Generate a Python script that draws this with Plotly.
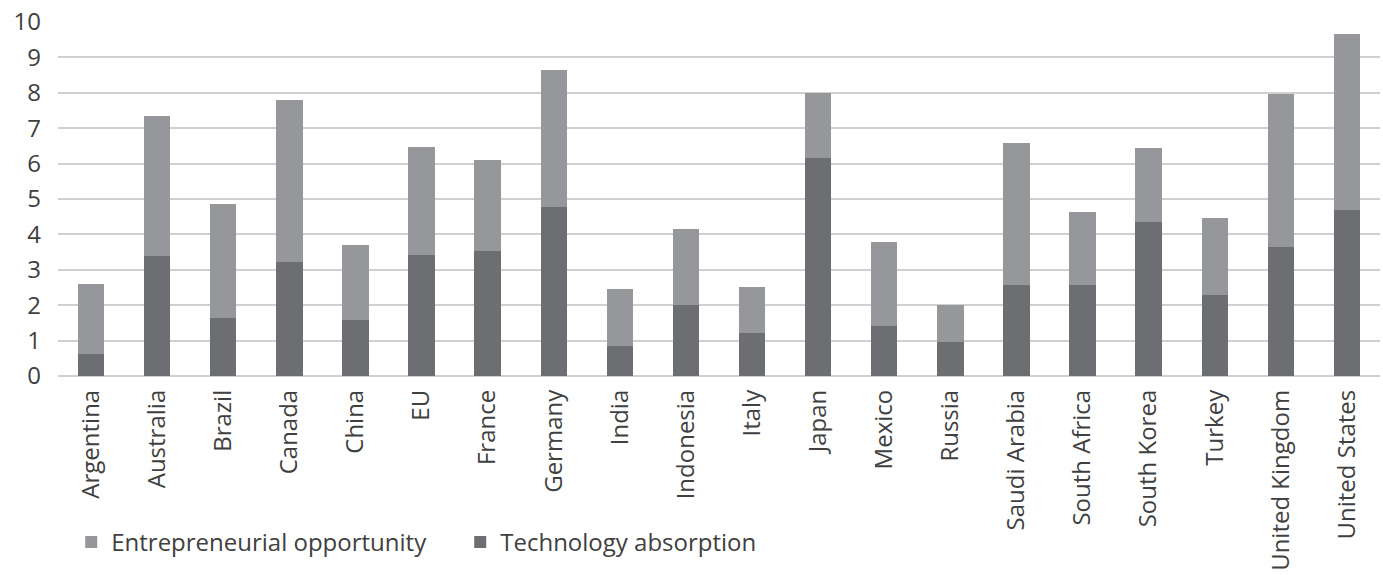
import plotly.graph_objects as go

countries = ["Argentina", "Australia", "Brazil", "Canada", "China", "EU", "France",
             "Germany", "India", "Indonesia", "Italy", "Japan", "Mexico", "Russia",
             "Saudi Arabia", "South Africa", "South Korea", "Turkey", "United Kingdom",
             "United States"]
technology_absorption = [0.62, 3.39, 1.64, 3.22, 1.58, 3.42, 3.53, 4.77, 0.85, 2.00,
                         1.21, 6.16, 1.41, 0.96, 2.57, 2.57, 4.35, 2.29, 3.64, 4.69]
entrepreneurial_opportunity = [1.98, 3.95, 3.22, 4.58, 2.12, 3.05, 2.57, 3.87, 1.61, 2.15,
                               1.30, 1.83, 2.38, 1.04, 4.01, 2.06, 2.09, 2.17, 4.33, 4.97]
y_ticks = list(range(0, 11))

light = "#96979B"
dark = "#6D6E71"
font_family = "Open Sans, DejaVu Sans, sans-serif"

fig = go.Figure()
fig.add_trace(go.Bar(x=countries, y=technology_absorption, name="Technology absorption",
                     marker=dict(color=dark, line=dict(width=0))))
fig.add_trace(go.Bar(x=countries, y=entrepreneurial_opportunity, name="Entrepreneurial opportunity",
                     marker=dict(color=light, line=dict(width=0))))

fig.update_layout(
    width=1383, height=575,
    barmode="stack", bargap=0.6,
    paper_bgcolor="white", plot_bgcolor="white",
    margin=dict(l=58, r=3, t=22, b=199, autoexpand=False),
    font=dict(family=font_family, color="#404040", size=24),
    legend=dict(orientation="h", traceorder="reversed", x=0.01, xanchor="left",
                y=-0.47, yanchor="middle", font=dict(size=24, color="#404040"),
                bgcolor="rgba(0,0,0,0)", itemwidth=30, entrywidth=344),
    xaxis=dict(tickangle=-90, showgrid=False, showline=False, ticks="",
               automargin=False, tickfont=dict(size=24), ticklabelstandoff=8),
    yaxis=dict(range=[0, 10], tickvals=y_ticks, showgrid=True, gridcolor="#D0D0D0",
               gridwidth=1.5, zeroline=True, zerolinecolor="#D0D0D0", zerolinewidth=1.5,
               showline=False, ticks="", automargin=False,
               tickfont=dict(size=24), ticklabelstandoff=16),
)

fig.write_html("out.html")
